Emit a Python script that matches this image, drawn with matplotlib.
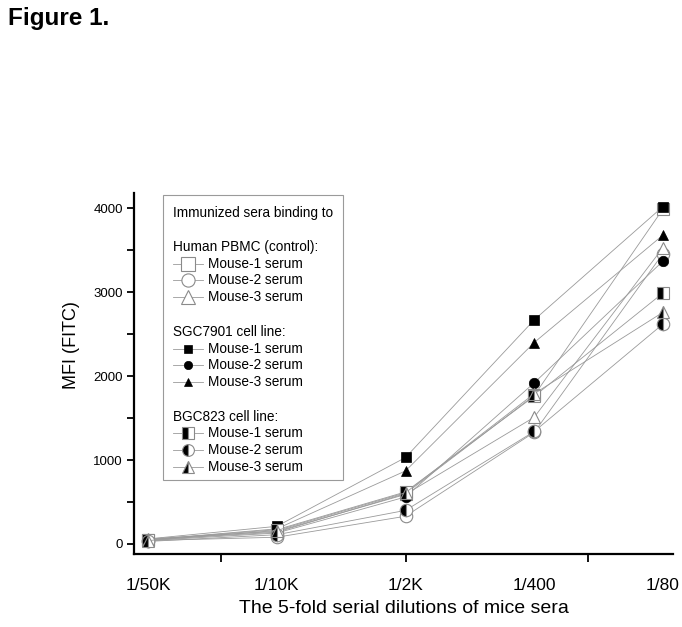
import matplotlib
matplotlib.use("Agg")
import matplotlib.pyplot as plt
from matplotlib.patches import Rectangle
from matplotlib.ticker import MultipleLocator

plt.rcParams['font.family'] = ['Liberation Sans', 'DejaVu Sans']

# x categories (5-fold dilutions)
dilutions = ['1/50K', '1/10K', '1/2K', '1/400', '1/80']

# MFI values
pbmc_m1 = [50, 140, 600, 1770, 3990]
pbmc_m2 = [40, 80, 330, 1330, 3460]
pbmc_m3 = [60, 150, 590, 1510, 3530]
sgc_m1 = [60, 210, 1030, 2670, 4020]
sgc_m2 = [40, 130, 560, 1920, 3370]
sgc_m3 = [50, 180, 870, 2400, 3680]
bgc_m1 = [50, 170, 620, 1760, 2990]
bgc_m2 = [30, 110, 400, 1340, 2620]
bgc_m3 = [40, 160, 610, 1790, 2760]

group_names = ['Human PBMC (control):', 'SGC7901 cell line:', 'BGC823 cell line:']
serum_names = ['Mouse-1 serum', 'Mouse-2 serum', 'Mouse-3 serum']
group_data = [
    [pbmc_m1, pbmc_m2, pbmc_m3],
    [sgc_m1, sgc_m2, sgc_m3],
    [bgc_m1, bgc_m2, bgc_m3],
]
group_kind = ['open', 'filled', 'half']
shapes = ['s', 'o', '^']

LINE = '#9a9a9a'
EDGE = '#8a8a8a'


def marker_style(kind, legend=False):
    if kind == 'open':
        return dict(mfc='white', mec=EDGE, mew=0.8, ms=9.5 if legend else 9)
    if kind == 'filled':
        return dict(mfc='black', mec='black', mew=0.5, ms=6 if legend else 7.5)
    return dict(mfc='black', mfcalt='white', fillstyle='left',
                mec=EDGE, mew=0.8, ms=8.5 if legend else 9)


fig = plt.figure(figsize=(6.82, 6.27), dpi=100)
ax = fig.add_axes([0.1965, 0.1164, 0.7903, 0.5756])

x = list(range(len(dilutions)))
for kind, series in zip(group_kind, group_data):
    for shape, vals in zip(shapes, series):
        ax.plot(x, vals, color=LINE, lw=0.6, marker=shape, clip_on=False,
                zorder=3, **marker_style(kind))

ax.set_xlim(-0.109, 4.078)
ax.set_ylim(-120, 4180)

for s in ['top', 'right']:
    ax.spines[s].set_visible(False)
for s in ['left', 'bottom']:
    ax.spines[s].set_linewidth(1.6)

# y axis
ax.yaxis.set_major_locator(MultipleLocator(1000))
ax.yaxis.set_minor_locator(MultipleLocator(500))
ax.tick_params(axis='y', which='both', direction='out', length=5, width=1.3,
               labelsize=9.5, pad=3)

# x axis: unlabelled ticks, labels under each dilution
ax.set_xticks([0.567, 2.004, 3.417])
ax.tick_params(axis='x', which='major', direction='out', length=6, width=1.3,
               labelbottom=False)
ax.set_xticks(x, dilutions, minor=True)
ax.tick_params(axis='x', which='minor', length=0, pad=17, labelsize=12.5)

ax.set_xlabel('The 5-fold serial dilutions of mice sera', fontsize=14)
ax.xaxis.set_label_coords(0.5, -0.128)
ax.set_ylabel('MFI (FITC)', fontsize=13)
ax.yaxis.set_label_coords(-0.1, 0.579)

fig.text(0.012, 0.960, 'Figure 1.', fontsize=17.5, fontweight='bold',
         va='baseline')

# hand-built legend box
ax.add_patch(Rectangle((0.054, 0.205), 0.334, 0.789, transform=ax.transAxes,
                       facecolor='white', edgecolor='#9a9a9a', lw=0.8,
                       zorder=5))
ax.text(0.072, 0.945, 'Immunized sera binding to', transform=ax.transAxes,
        fontsize=9.8, va='center', zorder=6)
for i, (name, kind) in enumerate(zip(group_names, group_kind)):
    hy = 0.850 - 0.235 * i
    ax.text(0.072, hy, name, transform=ax.transAxes, fontsize=9.8,
            va='center', zorder=6)
    for j, (shape, serum) in enumerate(zip(shapes, serum_names)):
        ry = hy - 0.046 * (j + 1)
        ax.plot([0.072, 0.128], [ry, ry], transform=ax.transAxes,
                color=LINE, lw=0.6, zorder=6, clip_on=False)
        ax.plot([0.100], [ry], transform=ax.transAxes, linestyle='none',
                marker=shape, zorder=7, clip_on=False,
                **marker_style(kind, legend=True))
        ax.text(0.137, ry, serum, transform=ax.transAxes, fontsize=9.8,
                va='center', zorder=6)

fig.savefig('out.png', dpi=100)
